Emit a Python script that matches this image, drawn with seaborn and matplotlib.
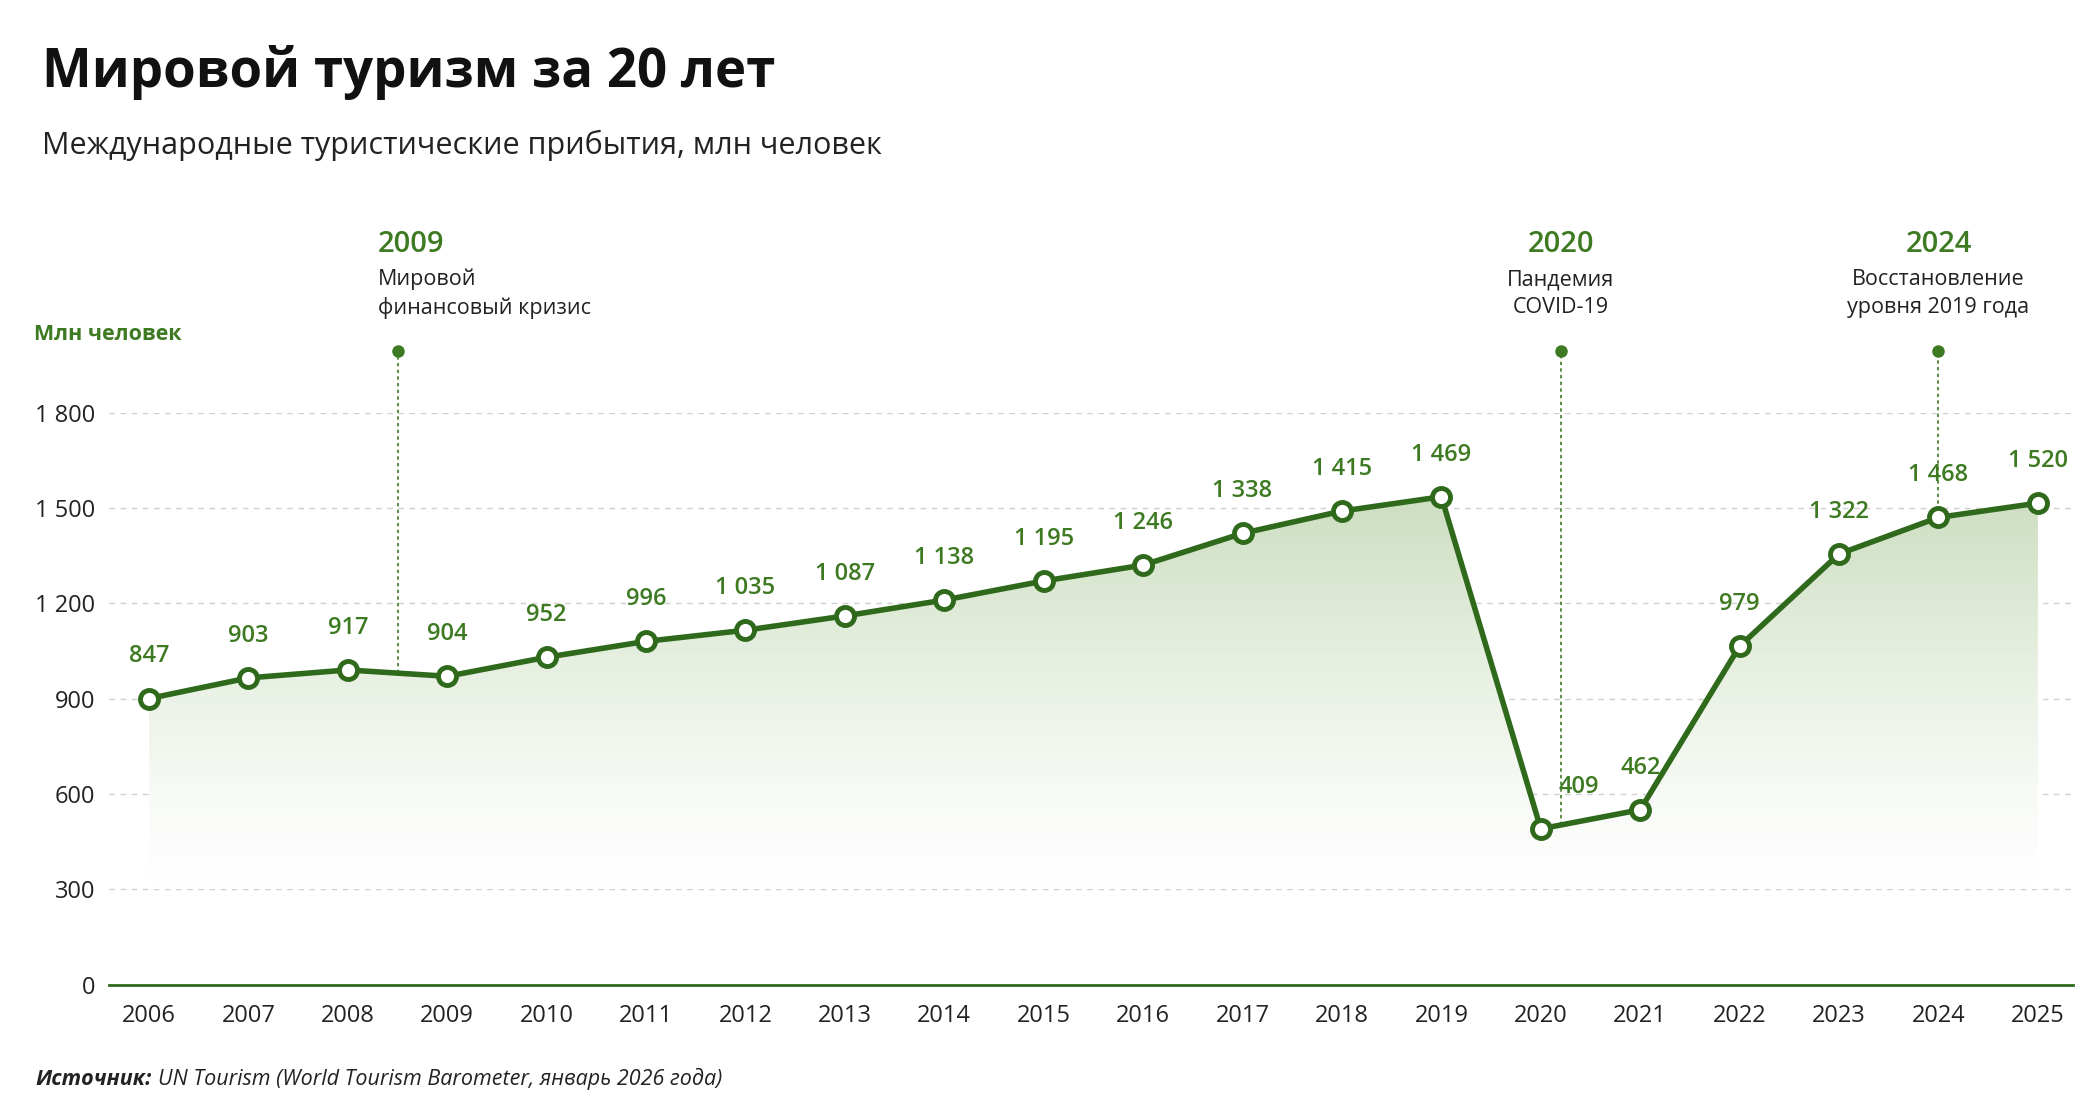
import numpy as np
import pandas as pd
import seaborn as sns
import matplotlib.pyplot as plt
from matplotlib.colors import LinearSegmentedColormap

years = list(range(2006, 2026))
plot_pos = [900, 965, 990, 970, 1030, 1080, 1115, 1160, 1210, 1270, 1320, 1420, 1490, 1535,
            490, 550, 1065, 1355, 1470, 1515]
labels = ["847", "903", "917", "904", "952", "996", "1 035", "1 087", "1 138", "1 195", "1 246",
          "1 338", "1 415", "1 469", "409", "462", "979", "1 322", "1 468", "1 520"]
events_x = [2008.5, 2020.2, 2024.0]
events_year = ["2009", "2020", "2024"]
events_text = ["Мировой\nфинансовый кризис", "Пандемия\nCOVID-19", "Восстановление\nуровня 2019 года"]
yticks = [0, 300, 600, 900, 1200, 1500, 1800]

sns.set_theme(style="white")
plt.rcParams['font.family'] = ['Open Sans', 'DejaVu Sans']
DG = "#2f6a1c"
LG = "#3d7a22"

df = pd.DataFrame({"year": years, "val": plot_pos})
fig = plt.figure(figsize=(21, 11.15), dpi=100)
ax = fig.add_axes([0.052, 0.117, 0.935, 0.513])
ax.set_xlim(2005.6, 2025.35)
ax.set_ylim(0, 1800)

cmap = LinearSegmentedColormap.from_list("g", ["#ffffff", "#c9dcbc"])
grad = np.linspace(0, 1, 256).reshape(-1, 1) ** 1.3
im = ax.imshow(grad, extent=[2006, 2025, 300, 1600], origin="lower", aspect="auto",
               cmap=cmap, zorder=1)
poly = ax.fill_between(df["year"], 0, df["val"], color="none", lw=0)
im.set_clip_path(poly.get_paths()[0], transform=ax.transData)

for y in yticks[1:]:
    ax.axhline(y, color="#cfcfcf", ls=(0, (4, 4)), lw=1, zorder=0)

sns.lineplot(data=df, x="year", y="val", ax=ax, color=DG, lw=4, zorder=3,
             marker="o", markersize=13, markerfacecolor="white", markeredgecolor=DG,
             markeredgewidth=3.5)

for x, v, t in zip(years, plot_pos, labels):
    dx = 0.38 if t == "409" else 0
    ax.text(x + dx, v + 95, t, ha="center", va="bottom", fontsize=17, color=LG,
            fontweight="semibold", zorder=4)

for x, yr, tx in zip(events_x, events_year, events_text):
    ax.plot([x, x], [np.interp(x, years, plot_pos), 1995], color=LG,
            ls=(0, (2, 2)), lw=1.2, clip_on=False, zorder=2)
    ax.plot([x], [1995], "o", color=LG, ms=8, clip_on=False)
    left = yr == "2009"
    ax.text(x - (0.2 if left else 0), 2330, yr, ha="left" if left else "center",
            va="center", fontsize=21, color=LG, fontweight="semibold")
    ax.text(x - (0.2 if left else 0), 2175, tx, ha="left" if left else "center",
            va="center", fontsize=15.5, color="#222222", linespacing=1.4)

ax.set_xticks(years)
ax.set_xticklabels([str(y) for y in years], fontsize=17, color="#222222")
ax.set_yticks(yticks)
ax.set_yticklabels([f"{y:,}".replace(",", " ") for y in yticks], fontsize=17, color="#222222")
ax.tick_params(axis="x", length=8, color=DG, width=1.5, pad=6)
ax.tick_params(axis="y", length=0, pad=10)
for s in ["top", "right", "left"]:
    ax.spines[s].set_visible(False)
ax.spines["bottom"].set_color(DG)
ax.spines["bottom"].set_linewidth(2)
ax.set_xlabel("")
ax.set_ylabel("")

fig.text(0.016, 0.7, "Млн человек", fontsize=15.5, color=LG, fontweight="bold", va="center")
fig.text(0.02, 0.935, "Мировой туризм за 20 лет", fontsize=38, fontweight="bold", color="#111111", va="center")
fig.text(0.02, 0.87, "Международные туристические прибытия, млн человек", fontsize=22, color="#222222", va="center")
fig.text(0.017, 0.032, "Источник:", fontsize=15.5, fontweight="bold", style="italic", color="#222222", va="center")
fig.text(0.075, 0.032, "UN Tourism (World Tourism Barometer, январь 2026 года)", fontsize=15.5,
         style="italic", color="#222222", va="center")

fig.savefig("out.png", dpi=100, facecolor="white")
